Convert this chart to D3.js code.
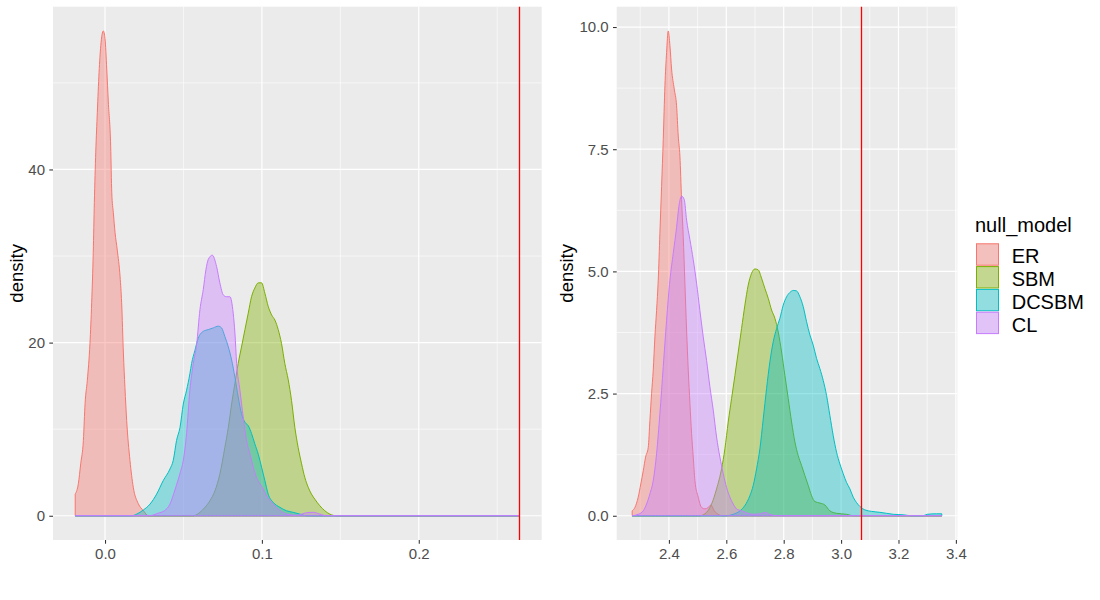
<!DOCTYPE html>
<html lang="en">
<head>
<meta charset="utf-8">
<script src="https://d3js.org/d3.v7.min.js"></script>
<style>
  body { margin: 0; background: #fff; }
  text { font-family: "Liberation Sans", Arial, sans-serif; }
</style>
</head>
<body>
<script>
// null models, in legend / drawing order
const models = ["ER", "SBM", "DCSBM", "CL"];
const colors = ["#F8766D", "#7CAE00", "#00BFC4", "#C77CFF"];

// left panel densities, [x, density]
const leftER = [[-0.019,2.5],[-0.017,3.7],[-0.0155,6.0],[-0.0138,8.7],[-0.0127,13.0],[-0.0113,15.6],[-0.0096,19.9],[-0.0085,24.6],[-0.0075,30.4],[-0.0068,36.2],[-0.0059,42.0],[-0.0049,46.6],[-0.0038,51.2],[-0.0027,54.3],[-0.0011,56.0],[0.0,55.1],[0.0011,51.6],[0.0021,47.8],[0.0036,42.7],[0.0043,37.3],[0.0053,35.0],[0.0064,32.7],[0.0078,30.7],[0.0096,27.6],[0.0106,24.6],[0.0117,18.8],[0.0127,14.8],[0.0138,11.0],[0.0159,6.4],[0.018,3.3],[0.0212,1.4],[0.0244,0.6],[0.0276,0],[0.2642,0]];
const leftSBM = [[-0.019,0],[0.0563,0],[0.0605,0.39],[0.0637,0.97],[0.0669,1.74],[0.0701,2.9],[0.0732,4.8],[0.0764,7.9],[0.0786,10.2],[0.0807,12.9],[0.0828,15.3],[0.0849,17.6],[0.087,19.5],[0.0892,21.5],[0.0913,23.4],[0.0934,25.3],[0.0955,26.3],[0.0977,26.9],[0.0998,26.9],[0.1019,25.7],[0.104,24.2],[0.1062,23.2],[0.1083,22.6],[0.1104,21.5],[0.1125,19.9],[0.1146,17.6],[0.1168,15.7],[0.1189,13.3],[0.121,10.2],[0.1231,7.9],[0.1253,6.0],[0.1274,4.4],[0.1295,3.3],[0.1316,2.5],[0.1338,1.9],[0.1369,1.16],[0.1401,0.58],[0.1433,0.19],[0.1476,0],[0.2642,0]];
const leftDCSBM = [[-0.019,0],[0.017,0],[0.0202,0.19],[0.0244,0.66],[0.0287,1.35],[0.0329,2.5],[0.0371,4.06],[0.0414,5.4],[0.0435,6.4],[0.0456,8.7],[0.0478,10.2],[0.0499,12.9],[0.052,14.5],[0.0541,16.4],[0.0552,17.6],[0.0573,19.1],[0.0594,20.5],[0.0626,21.3],[0.0658,21.5],[0.069,21.7],[0.0722,21.9],[0.0743,21.7],[0.0764,20.7],[0.0786,19.5],[0.0807,18.0],[0.0828,16.0],[0.0849,13.7],[0.087,11.8],[0.0892,10.8],[0.0913,10.4],[0.0934,9.5],[0.0955,8.3],[0.0977,7.1],[0.0998,5.6],[0.1019,4.06],[0.104,2.5],[0.1072,1.55],[0.1115,0.97],[0.1157,0.58],[0.12,0.39],[0.1242,0.19],[0.1285,0],[0.2642,0]];
const leftCL = [[-0.019,0],[0.028,0],[0.034,0.3],[0.038,0.6],[0.0414,1.35],[0.0446,3.0],[0.0478,4.9],[0.0499,6.4],[0.052,9.5],[0.0541,14.5],[0.0563,17.6],[0.0584,19.8],[0.0605,23.8],[0.0626,26.1],[0.0643,28.4],[0.0658,29.6],[0.0684,30.1],[0.0711,28.8],[0.0732,26.9],[0.0754,25.5],[0.0775,25.3],[0.0796,25.3],[0.0817,23.4],[0.0828,21.1],[0.0839,17.6],[0.086,14.5],[0.0881,11.4],[0.0902,8.7],[0.0924,7.1],[0.0945,5.6],[0.0966,4.4],[0.0987,3.7],[0.1008,3.1],[0.103,2.3],[0.1072,1.35],[0.1115,0.6],[0.1157,0.2],[0.122,0.05],[0.1285,0.35],[0.1327,0.4],[0.1369,0.2],[0.141,0],[0.2642,0]];

// right panel densities, [x, density]
const rightER = [[2.272,0.1],[2.2815,0.17],[2.293,0.38],[2.302,0.65],[2.3106,0.92],[2.3187,1.2],[2.328,1.4],[2.3338,1.95],[2.3396,2.5],[2.3454,2.98],[2.3512,3.66],[2.357,4.2],[2.3628,4.82],[2.3686,5.78],[2.3745,6.74],[2.3803,7.7],[2.3861,8.8],[2.3919,9.48],[2.3977,9.92],[2.4035,9.62],[2.4093,9.14],[2.4186,8.73],[2.4267,8.39],[2.4325,7.77],[2.4383,7.36],[2.4441,6.47],[2.4499,5.71],[2.4557,4.76],[2.4616,3.8],[2.4674,2.98],[2.4732,2.3],[2.479,1.68],[2.4848,1.2],[2.4906,0.72],[2.5022,0.38],[2.5138,0.17],[2.5254,0.14],[2.537,0.17],[2.5463,0.22],[2.558,0.1],[2.5719,0.03],[2.5835,0],[3.351,0]];
const rightSBM = [[2.272,0],[2.508,0],[2.5313,0.07],[2.5487,0.24],[2.5661,0.55],[2.5835,0.96],[2.5951,1.37],[2.6067,1.92],[2.6184,2.4],[2.63,2.87],[2.6416,3.35],[2.6532,3.83],[2.6648,4.31],[2.6764,4.72],[2.688,4.96],[2.6997,5.05],[2.7113,5.03],[2.7229,4.86],[2.7345,4.65],[2.7461,4.45],[2.7577,4.21],[2.7693,4.04],[2.7809,3.76],[2.7926,3.35],[2.8042,2.87],[2.8158,2.4],[2.8274,1.92],[2.839,1.51],[2.8506,1.23],[2.8622,1.03],[2.8739,0.82],[2.8855,0.62],[2.8971,0.41],[2.9087,0.29],[2.9261,0.26],[2.9436,0.22],[2.961,0.1],[2.9842,0.05],[3.0191,0.03],[3.0423,0],[3.351,0]];
const rightDCSBM = [[2.272,0],[2.6009,0],[2.6241,0.03],[2.6474,0.1],[2.6648,0.21],[2.6822,0.41],[2.6938,0.62],[2.7055,0.96],[2.7171,1.37],[2.7287,1.98],[2.7403,2.6],[2.7519,3.15],[2.7635,3.56],[2.7752,3.83],[2.7868,4.04],[2.7984,4.31],[2.81,4.48],[2.8216,4.57],[2.8332,4.61],[2.8449,4.6],[2.8564,4.48],[2.868,4.28],[2.8797,3.97],[2.8913,3.7],[2.9029,3.49],[2.9145,3.22],[2.9261,3.01],[2.9377,2.77],[2.9494,2.46],[2.961,2.05],[2.9726,1.64],[2.9842,1.3],[2.9958,1.06],[3.0074,0.86],[3.0191,0.68],[3.0307,0.55],[3.0423,0.38],[3.0539,0.27],[3.0655,0.19],[3.0829,0.12],[3.1061,0.09],[3.1352,0.07],[3.1584,0.05],[3.1816,0.03],[3.2164,0.02],[3.2455,0],[3.2861,0],[3.3,0.03],[3.3326,0.04],[3.351,0.04]];
const rightCL = [[2.272,0],[2.293,0.03],[2.3106,0.1],[2.3222,0.24],[2.3338,0.45],[2.3454,0.72],[2.357,1.27],[2.3686,2.09],[2.3803,3.05],[2.3919,4.0],[2.4035,4.82],[2.4151,5.37],[2.4267,5.9],[2.4348,6.33],[2.4441,6.54],[2.4534,6.47],[2.4616,6.05],[2.4732,5.65],[2.4848,5.24],[2.4964,4.76],[2.508,4.2],[2.5196,3.66],[2.5312,3.18],[2.5428,2.64],[2.5545,2.16],[2.5661,1.61],[2.5777,1.2],[2.5893,0.86],[2.6009,0.58],[2.6125,0.38],[2.6241,0.24],[2.6357,0.14],[2.6531,0.1],[2.6705,0.06],[2.69,0.03],[2.72,0.04],[2.735,0.07],[2.75,0.03],[2.78,0],[3.351,0]];

// observed values (vertical lines)
const leftObserved = 0.2642;
const rightObserved = 3.07;

// tick labels
const leftXTicks = [0, 0.1, 0.2];
const leftYTicks = [0, 20, 40];
const rightXTicks = [2.4, 2.6, 2.8, 3.0, 3.2, 3.4];
const rightYTicks = [0, 2.5, 5, 7.5, 10];

const svg = d3.select("body").append("svg")
    .attr("width", 1100)
    .attr("height", 600);

function expand(lo, hi) {
    const d = (hi - lo) * 0.05;
    return [lo - d, hi + d];
}

function minorOf(ticks, domain) {
    const step = ticks[1] - ticks[0];
    const out = [];
    for (let i = -1; i < ticks.length; i++) {
        const v = ticks[0] + step * (i + 0.5);
        if (v > domain[0] && v < domain[1]) out.push(v);
    }
    return out;
}

function drawPanel(p) {
    const allX = p.series.flat().map(d => d[0]).concat([p.vline]);
    const allY = p.series.flat().map(d => d[1]);
    const xDom = expand(d3.min(allX), d3.max(allX));
    const yDom = expand(0, d3.max(allY));

    const x = d3.scaleLinear().domain(xDom).range([p.left, p.right]);
    const y = d3.scaleLinear().domain(yDom).range([p.bottom, p.top]);

    const g = svg.append("g");

    g.append("rect")
        .attr("x", p.left).attr("y", p.top)
        .attr("width", p.right - p.left).attr("height", p.bottom - p.top)
        .attr("fill", "#EBEBEB");

    // grid
    g.selectAll(".minx").data(minorOf(p.xTicks, xDom)).enter().append("line")
        .attr("x1", d => x(d)).attr("x2", d => x(d))
        .attr("y1", p.top).attr("y2", p.bottom)
        .attr("stroke", "#fff").attr("stroke-width", 0.6);
    g.selectAll(".miny").data(minorOf(p.yTicks, yDom)).enter().append("line")
        .attr("y1", d => y(d)).attr("y2", d => y(d))
        .attr("x1", p.left).attr("x2", p.right)
        .attr("stroke", "#fff").attr("stroke-width", 0.6);
    g.selectAll(".majx").data(p.xTicks).enter().append("line")
        .attr("x1", d => x(d)).attr("x2", d => x(d))
        .attr("y1", p.top).attr("y2", p.bottom)
        .attr("stroke", "#fff").attr("stroke-width", 1.2);
    g.selectAll(".majy").data(p.yTicks).enter().append("line")
        .attr("y1", d => y(d)).attr("y2", d => y(d))
        .attr("x1", p.left).attr("x2", p.right)
        .attr("stroke", "#fff").attr("stroke-width", 1.2);

    const area = d3.area()
        .x(d => x(d[0]))
        .y0(y(0))
        .y1(d => y(d[1]))
        .curve(d3.curveMonotoneX);

    p.series.forEach((s, i) => {
        g.append("path")
            .datum(s)
            .attr("d", area)
            .attr("fill", colors[i])
            .attr("fill-opacity", 0.4)
            .attr("stroke", colors[i])
            .attr("stroke-width", 1);
    });

    // observed value, snapped to a pixel column so it stays bright red
    const vx = Math.round(x(p.vline) - 0.5) + 0.5;
    g.append("line")
        .attr("x1", vx).attr("x2", vx)
        .attr("y1", p.top).attr("y2", p.bottom)
        .attr("stroke", "#FF0000").attr("stroke-width", 1.3);

    // axes
    const ax = g.append("g")
        .attr("transform", "translate(0," + p.bottom + ")")
        .call(d3.axisBottom(x).tickValues(p.xTicks).tickFormat(d3.format(".1f"))
            .tickSize(3.7).tickPadding(4.6));
    const ay = g.append("g")
        .attr("transform", "translate(" + p.left + ",0)")
        .call(d3.axisLeft(y).tickValues(p.yTicks).tickFormat(d3.format(p.yFormat))
            .tickSize(3.7).tickPadding(4.3));
    [ax, ay].forEach(a => {
        a.select(".domain").remove();
        a.selectAll("line").attr("stroke", "#333333").attr("stroke-width", 1.07);
        a.selectAll("text")
            .attr("fill", "#4D4D4D")
            .style("font-size", "15px")
            .style("font-family", "'Liberation Sans', Arial, sans-serif");
    });

    g.append("text")
        .attr("transform", "translate(" + p.titleX + "," + ((p.top + p.bottom) / 2) + ") rotate(-90)")
        .attr("text-anchor", "middle")
        .style("font-size", "18.5px")
        .attr("fill", "#000")
        .text("density");
}

drawPanel({
    left: 53, right: 541.7, top: 6.7, bottom: 540,
    series: [leftER, leftSBM, leftDCSBM, leftCL],
    vline: leftObserved,
    xTicks: leftXTicks, yTicks: leftYTicks, yFormat: "d",
    titleX: 23
});

drawPanel({
    left: 616.7, right: 957.3, top: 6.7, bottom: 540,
    series: [rightER, rightSBM, rightDCSBM, rightCL],
    vline: rightObserved,
    xTicks: rightXTicks, yTicks: rightYTicks, yFormat: ".1f",
    titleX: 573
});

// legend
const legend = svg.append("g");
legend.append("text")
    .attr("x", 975).attr("y", 231.7)
    .style("font-size", "20px")
    .attr("fill", "#000")
    .text("null_model");

const keys = legend.selectAll(".key").data(models).enter().append("g")
    .attr("transform", (d, i) => "translate(976," + (243.3 + i * 22.8) + ")");
keys.append("rect")
    .attr("width", 23).attr("height", 22.4)
    .attr("fill", "#F2F2F2");
keys.append("rect")
    .attr("x", 0.5).attr("y", 0.5)
    .attr("width", 22).attr("height", 21.4)
    .attr("fill", (d, i) => colors[i])
    .attr("fill-opacity", 0.4)
    .attr("stroke", (d, i) => colors[i])
    .attr("stroke-width", 1);
keys.append("text")
    .attr("x", 35.7).attr("y", 20)
    .style("font-size", "20px")
    .attr("fill", "#000")
    .text(d => d);
</script>
</body>
</html>
